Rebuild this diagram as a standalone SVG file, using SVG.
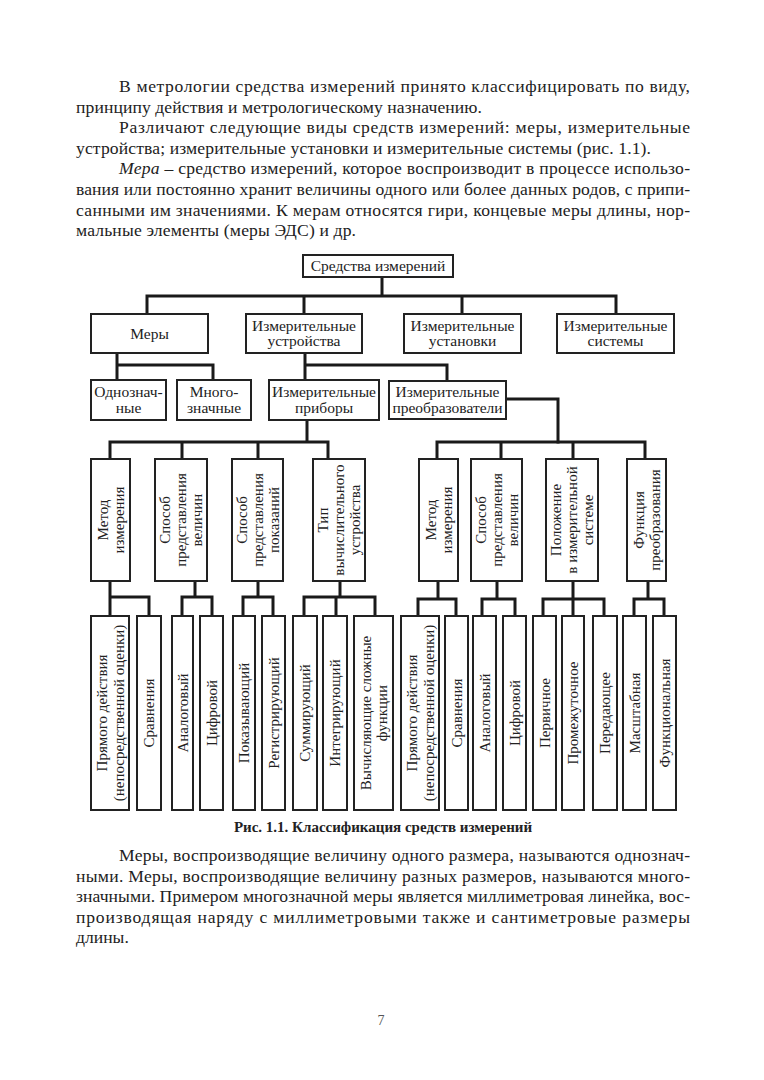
<svg xmlns="http://www.w3.org/2000/svg" width="764" height="1080" viewBox="0 0 764 1080">
<style>
.bg{fill:#fff}
.b{fill:#fff;stroke:#222;stroke-width:2}
.c{fill:none;stroke:#1a1a1a;stroke-width:3;stroke-linecap:square}
.t{font-family:"Liberation Serif","Times New Roman",serif;font-size:15.5px;fill:#222;text-anchor:middle}
.v{font-family:"Liberation Serif","Times New Roman",serif;font-size:15px;fill:#222;text-anchor:middle}
.p{font-family:"Liberation Serif","Times New Roman",serif;font-size:17.6px;fill:#222}
.cap{font-family:"Liberation Serif","Times New Roman",serif;font-size:15px;font-weight:bold;fill:#222;text-anchor:middle}
.pg{font-family:"Liberation Serif","Times New Roman",serif;font-size:14px;fill:#555;text-anchor:middle}
</style>
<rect class="bg" x="0" y="0" width="764" height="1080"/>

<g id="text-top">
<text class="p" x="119" y="92" textLength="571" lengthAdjust="spacing">В метрологии средства измерений принято классифицировать по виду,</text>
<text class="p" x="76" y="112.6" textLength="406" lengthAdjust="spacing">принципу действия и метрологическому назначению.</text>
<text class="p" x="119" y="133.2" textLength="571" lengthAdjust="spacing">Различают следующие виды средств измерений: меры, измерительные</text>
<text class="p" x="76" y="153.8" textLength="575" lengthAdjust="spacing">устройства; измерительные установки и измерительные системы (рис. 1.1).</text>
<text class="p" x="119" y="174.4" textLength="571" lengthAdjust="spacing"><tspan font-style="italic">Мера</tspan> – средство измерений, которое воспроизводит в процессе использо-</text>
<text class="p" x="76" y="195" textLength="614" lengthAdjust="spacing">вания или постоянно хранит величины одного или более данных родов, с припи-</text>
<text class="p" x="76" y="215.6" textLength="614" lengthAdjust="spacing">санными им значениями. К мерам относятся гири, концевые меры длины, нор-</text>
<text class="p" x="76" y="236.2" textLength="280" lengthAdjust="spacing">мальные элементы (меры ЭДС) и др.</text>
</g>

<g id="connectors">
<path class="c" d="M382,277V296 M147,296H616 M147,296V314 M304,296V314 M462,296V314 M616,296V314"/>
<path class="c" d="M117,353V380 M117,365H213V380"/>
<path class="c" d="M305,353V380 M305,365H447V381"/>
<path class="c" d="M506,399H558V442"/>
<path class="c" d="M307,420V442 M110,442H328 M110,442V459 M182,442V459 M258,442V459 M328,442V459"/>
<path class="c" d="M437,442H645 M437,442V459 M501,442V459 M573,442V459 M645,442V459"/>
<path class="c" d="M110,581V616 M110,597H149V616"/>
<path class="c" d="M195,581V597 M182,597H212 M182,597V616 M212,597V616"/>
<path class="c" d="M258,581V597 M243,597H273 M243,597V616 M273,597V616"/>
<path class="c" d="M340,581V597 M304,597H375 M304,597V616 M336,597V616 M375,597V616"/>
<path class="c" d="M438,581V599 M418,599H456 M418,599V616 M456,599V616"/>
<path class="c" d="M497,581V599 M482,599H515 M482,599V616 M515,599V616"/>
<path class="c" d="M573,581V616 M543,599H604 M543,599V616 M604,599V616"/>
<path class="c" d="M648,581V599 M634,599H664 M634,599V616 M664,599V616"/>
</g>

<g id="n-root"><rect class="b" x="303" y="255" width="150" height="22"/><text class="t" x="378" y="271">Средства измерений</text></g>

<g id="n-mery"><rect class="b" x="91" y="314" width="117" height="39"/><text class="t" x="149.5" y="338.5">Меры</text></g>
<g id="n-ustr"><rect class="b" x="246" y="314" width="116" height="39"/><text class="t"><tspan x="304" y="330.5">Измерительные</tspan><tspan x="304" y="346">устройства</tspan></text></g>
<g id="n-ustan"><rect class="b" x="404" y="314" width="117" height="39"/><text class="t"><tspan x="462.5" y="330.5">Измерительные</tspan><tspan x="462.5" y="346">установки</tspan></text></g>
<g id="n-sist"><rect class="b" x="557" y="314" width="117" height="39"/><text class="t"><tspan x="615.5" y="330.5">Измерительные</tspan><tspan x="615.5" y="346">системы</tspan></text></g>

<g id="n-odno"><rect class="b" x="91" y="380" width="75" height="40"/><text class="t"><tspan x="128.5" y="397">Однознач-</tspan><tspan x="128.5" y="412.5">ные</tspan></text></g>
<g id="n-mnogo"><rect class="b" x="177" y="380" width="74" height="40"/><text class="t"><tspan x="214" y="397">Много-</tspan><tspan x="214" y="412.5">значные</tspan></text></g>
<g id="n-pribory"><rect class="b" x="269" y="380" width="110" height="40"/><text class="t"><tspan x="324" y="397">Измерительные</tspan><tspan x="324" y="412.5">приборы</tspan></text></g>
<g id="n-preobr"><rect class="b" x="389" y="381" width="117" height="38"/><text class="t"><tspan x="447.5" y="397">Измерительные</tspan><tspan x="447.5" y="412.5">преобразователи</tspan></text></g>

<g id="n-p-metod"><rect class="b" x="91" y="459" width="39" height="122"/><text class="v" transform="translate(110.5,520) rotate(-90)"><tspan x="0" y="-3">Метод</tspan><tspan x="0" y="13">измерения</tspan></text></g>
<g id="n-p-sposob-vel"><rect class="b" x="155" y="459" width="52" height="122"/><text class="v" transform="translate(181,520) rotate(-90)"><tspan x="0" y="-11">Способ</tspan><tspan x="0" y="5">представления</tspan><tspan x="0" y="21">величин</tspan></text></g>
<g id="n-p-sposob-pok"><rect class="b" x="232" y="459" width="51" height="122"/><text class="v" transform="translate(257.5,520) rotate(-90)"><tspan x="0" y="-11">Способ</tspan><tspan x="0" y="5">представления</tspan><tspan x="0" y="21">показаний</tspan></text></g>
<g id="n-p-tip"><rect class="b" x="313" y="459" width="52" height="122"/><text class="v" transform="translate(339,520) rotate(-90)"><tspan x="0" y="-11">Тип</tspan><tspan x="0" y="5">вычислительного</tspan><tspan x="0" y="21">устройства</tspan></text></g>

<g id="n-t-metod"><rect class="b" x="419" y="459" width="39" height="122"/><text class="v" transform="translate(438.5,520) rotate(-90)"><tspan x="0" y="-3">Метод</tspan><tspan x="0" y="13">измерения</tspan></text></g>
<g id="n-t-sposob"><rect class="b" x="471" y="459" width="51" height="122"/><text class="v" transform="translate(496.5,520) rotate(-90)"><tspan x="0" y="-11">Способ</tspan><tspan x="0" y="5">представления</tspan><tspan x="0" y="21">величин</tspan></text></g>
<g id="n-t-polozh"><rect class="b" x="546" y="459" width="52" height="122"/><text class="v" transform="translate(572,520) rotate(-90)"><tspan x="0" y="-11">Положение</tspan><tspan x="0" y="5">в измерительной</tspan><tspan x="0" y="21">системе</tspan></text></g>
<g id="n-t-funk"><rect class="b" x="627" y="459" width="39" height="122"/><text class="v" transform="translate(646.5,520) rotate(-90)"><tspan x="0" y="-3">Функция</tspan><tspan x="0" y="13">преобразования</tspan></text></g>

<g id="n-l1"><rect class="b" x="91" y="616" width="38" height="194"/><text class="v" transform="translate(110,713) rotate(-90)"><tspan x="0" y="-3">Прямого действия</tspan><tspan x="0" y="13.5">(непосредственной оценки)</tspan></text></g>
<g id="n-l2"><rect class="b" x="137" y="616" width="24" height="194"/><text class="v" transform="translate(149,713) rotate(-90)" y="5">Сравнения</text></g>
<g id="n-l3"><rect class="b" x="172" y="616" width="21" height="194"/><text class="v" transform="translate(182.5,713) rotate(-90)" y="5">Аналоговый</text></g>
<g id="n-l4"><rect class="b" x="200" y="616" width="23" height="194"/><text class="v" transform="translate(211.5,713) rotate(-90)" y="5">Цифровой</text></g>
<g id="n-l5"><rect class="b" x="233" y="616" width="22" height="194"/><text class="v" transform="translate(244,713) rotate(-90)" y="5">Показывающий</text></g>
<g id="n-l6"><rect class="b" x="262" y="616" width="23" height="194"/><text class="v" transform="translate(273.5,713) rotate(-90)" y="5">Регистрирующий</text></g>
<g id="n-l7"><rect class="b" x="293" y="616" width="24" height="194"/><text class="v" transform="translate(305,713) rotate(-90)" y="5">Суммирующий</text></g>
<g id="n-l8"><rect class="b" x="323" y="616" width="24" height="194"/><text class="v" transform="translate(335,713) rotate(-90)" y="5">Интегрирующий</text></g>
<g id="n-l9"><rect class="b" x="354" y="616" width="39" height="194"/><text class="v" transform="translate(373.5,713) rotate(-90)"><tspan x="0" y="-3">Вычисляющие сложные</tspan><tspan x="0" y="13">функции</tspan></text></g>

<g id="n-r1"><rect class="b" x="401" y="616" width="38" height="194"/><text class="v" transform="translate(420,713) rotate(-90)"><tspan x="0" y="-3">Прямого действия</tspan><tspan x="0" y="13.5">(непосредственной оценки)</tspan></text></g>
<g id="n-r2"><rect class="b" x="445" y="616" width="23" height="194"/><text class="v" transform="translate(456.5,713) rotate(-90)" y="5">Сравнения</text></g>
<g id="n-r3"><rect class="b" x="473" y="616" width="23" height="194"/><text class="v" transform="translate(484.5,713) rotate(-90)" y="5">Аналоговый</text></g>
<g id="n-r4"><rect class="b" x="503" y="616" width="23" height="194"/><text class="v" transform="translate(514.5,713) rotate(-90)" y="5">Цифровой</text></g>
<g id="n-r5"><rect class="b" x="533" y="616" width="23" height="194"/><text class="v" transform="translate(544.5,713) rotate(-90)" y="5">Первичное</text></g>
<g id="n-r6"><rect class="b" x="562" y="616" width="22" height="194"/><text class="v" transform="translate(573,713) rotate(-90)" y="5">Промежуточное</text></g>
<g id="n-r7"><rect class="b" x="593" y="616" width="24" height="194"/><text class="v" transform="translate(605,713) rotate(-90)" y="5">Передающее</text></g>
<g id="n-r8"><rect class="b" x="623" y="616" width="23" height="194"/><text class="v" transform="translate(634.5,713) rotate(-90)" y="5">Масштабная</text></g>
<g id="n-r9"><rect class="b" x="653" y="616" width="23" height="194"/><text class="v" transform="translate(664.5,713) rotate(-90)" y="5">Функциональная</text></g>

<g id="caption"><text class="cap" x="383" y="832">Рис. 1.1. Классификация средств измерений</text></g>

<g id="text-bottom">
<text class="p" x="119" y="861" textLength="571" lengthAdjust="spacing">Меры, воспроизводящие величину одного размера, называются однознач-</text>
<text class="p" x="76" y="881.5" textLength="614" lengthAdjust="spacing">ными. Меры, воспроизводящие величину разных размеров, называются много-</text>
<text class="p" x="76" y="902" textLength="614" lengthAdjust="spacing">значными. Примером многозначной меры является миллиметровая линейка, вос-</text>
<text class="p" x="76" y="922.5" textLength="614" lengthAdjust="spacing">производящая наряду с миллиметровыми также и сантиметровые размеры</text>
<text class="p" x="76" y="943">длины.</text>
</g>

<g id="page-number"><text class="pg" x="381" y="1025">7</text></g>
</svg>
